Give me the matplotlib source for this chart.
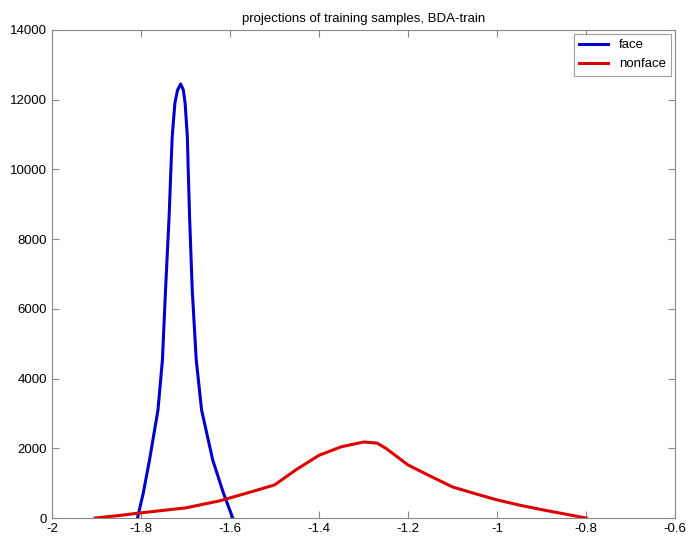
import matplotlib.pyplot as plt

# projection values and counts
face_x = [-1.808, -1.795, -1.781, -1.762, -1.752, -1.745, -1.737, -1.733, -1.730, -1.724, -1.718, -1.711,
          -1.705, -1.701, -1.696, -1.694, -1.691, -1.685, -1.676, -1.664, -1.639, -1.615, -1.594]
face_y = [0, 717, 1664, 3098, 4532, 6540, 8640, 9980, 10940, 11900, 12278, 12450,
          12278, 11900, 10940, 9980, 8640, 6540, 4532, 3098, 1664, 717, 0]

nonface_x = [-1.903, -1.85, -1.81, -1.7, -1.622, -1.55, -1.5, -1.45, -1.4, -1.35, -1.3,
             -1.27, -1.25, -1.2, -1.15, -1.1, -1.05, -1.0, -0.95, -0.9, -0.85, -0.8]
nonface_y = [0, 70, 134, 290, 497, 760, 950, 1400, 1800, 2045, 2180,
             2150, 2000, 1520, 1200, 890, 700, 520, 370, 240, 120, 0]

fig = plt.figure(figsize=(6.89, 5.45), dpi=100)
ax = fig.add_axes([0.0755, 0.0495, 0.9045, 0.8955])
plt.rcParams['font.family'] = ['Liberation Sans', 'DejaVu Sans']

ax.plot(face_x, face_y, color='#0000cc', linewidth=2.2, label='face', solid_joinstyle='round')
ax.plot(nonface_x, nonface_y, color='#dd0000', linewidth=2.2, label='nonface', solid_joinstyle='round')

ax.set_xlim(-2, -0.6)
ax.set_ylim(0, 14000)
ax.set_xticks([-2, -1.8, -1.6, -1.4, -1.2, -1, -0.8, -0.6])
ax.set_xticklabels(['-2', '-1.8', '-1.6', '-1.4', '-1.2', '-1', '-0.8', '-0.6'], family='Liberation Sans')
ax.set_yticks(range(0, 14001, 2000))
ax.set_yticklabels([str(v) for v in range(0, 14001, 2000)], family='Liberation Sans')
ax.tick_params(direction='in', top=True, right=True, length=5, labelsize=9.5, color='#888888')
for s in ax.spines.values():
    s.set_color('#888888')

ax.set_title('projections of training samples, BDA-train', fontsize=9.5, family='Liberation Sans')
leg = ax.legend(loc='upper right', fancybox=False, prop={'family': 'Liberation Sans', 'size': 9.5},
                edgecolor='#888888', handlelength=2.2, borderaxespad=0.3)
leg.get_frame().set_linewidth(0.8)

plt.savefig('out.png', dpi=100)
